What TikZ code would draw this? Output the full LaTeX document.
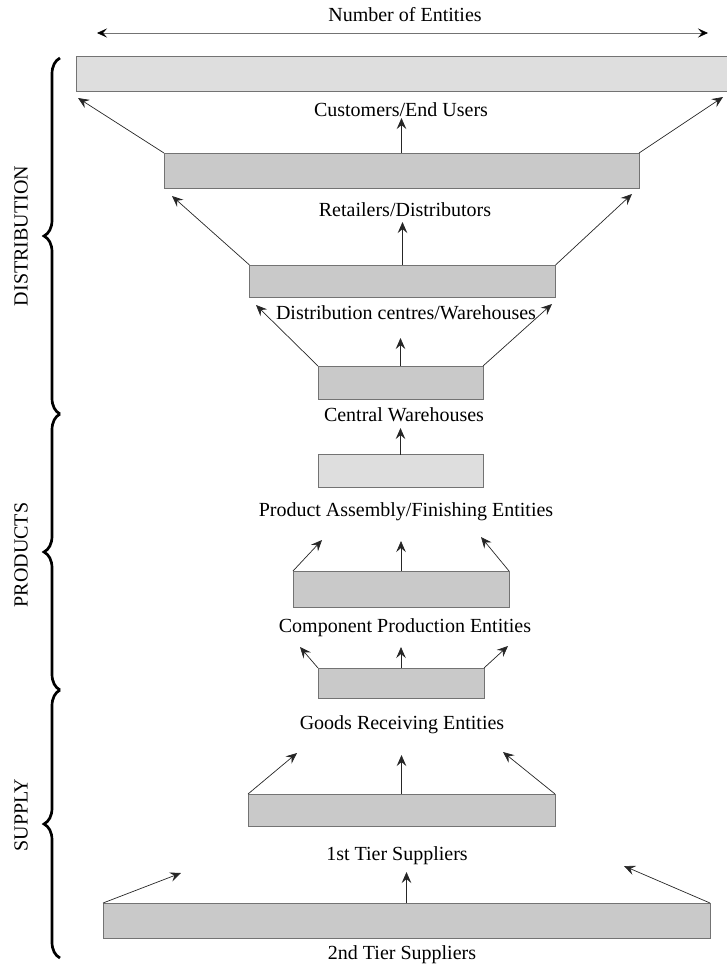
\documentclass[tikz,border=0pt]{standalone}
\usepackage{fontspec}
\setmainfont{Liberation Serif}
\usetikzlibrary{arrows.meta,decorations.pathreplacing}

\tikzset{
  tier/.style={draw=black!55, line width=0.7pt, fill=black!21, inner sep=0pt, outer sep=0pt},
  tierlight/.style={tier, fill=black!13},
  lbl/.style={font=\fontsize{20}{24}\selectfont, inner sep=0pt},
  side/.style={font=\fontsize{20}{24}\selectfont, inner sep=0pt, rotate=90},
  flow/.style={draw=black!85, line width=0.7pt, -{Stealth[length=11pt,width=9.5pt,inset=4pt]}},
  span/.style={draw=black!55, line width=0.6pt, {Stealth[length=10pt,width=9pt,inset=4pt,black]}-{Stealth[length=10pt,width=9pt,inset=4pt,black]}},
  curly/.style={line width=2.7pt, decorate, decoration={brace, amplitude=16pt}}
}

\begin{document}
\begin{tikzpicture}[x=1pt,y=-1pt]
\useasboundingbox (0,0) rectangle (726,967);

% scale of the chain
\node[lbl] (count) at (405,15) {Number of Entities};
\coordinate (spanL) at (97,33);
\coordinate (spanR) at (708,33);
\draw[span] (spanL) -- (spanR);

% tiers, top to bottom
\node[tierlight, minimum width=652pt, minimum height=35pt] (b1) at (402,73.5) {};
\node[tier, minimum width=475pt, minimum height=35pt] (b2) at (401.5,170.5) {};
\node[tier, minimum width=306pt, minimum height=32pt] (b3) at (402.5,281) {};
\node[tier, minimum width=165pt, minimum height=33pt] (b4) at (400.5,382.5) {};
\node[tierlight, minimum width=165pt, minimum height=33pt] (b5) at (400.5,471) {};
\node[tier, minimum width=216pt, minimum height=36pt] (b6) at (401,589) {};
\node[tier, minimum width=166pt, minimum height=30pt] (b7) at (401,683) {};
\node[tier, minimum width=307pt, minimum height=32pt] (b8) at (401.5,810) {};
\node[tier, minimum width=607pt, minimum height=35pt] (b9) at (406.5,920.5) {};

% tier names
\node[lbl] (t1) at (401,110) {Customers/End Users};
\node[lbl] (t2) at (405,210) {Retailers/Distributors};
\node[lbl] (t3) at (406,313) {Distribution centres/Warehouses};
\node[lbl] (t4) at (404,415) {Central Warehouses};
\node[lbl] (t5) at (406,512) {Product Assembly/Finishing Entities};
\node[lbl] (t6) at (405,628) {Component Production Entities};
\node[lbl] (t7) at (402,725) {Goods Receiving Entities};
\node[lbl] (t8) at (397,856) {1st Tier Suppliers};
\node[lbl] (t9) at (402,955) {2nd Tier Suppliers};

% arrow heads
\coordinate (a1l) at (78,98);   \coordinate (a1c) at (401.5,118); \coordinate (a1r) at (723,97);
\coordinate (a2l) at (172,196); \coordinate (a2c) at (402.5,222); \coordinate (a2r) at (632,194);
\coordinate (a3l) at (256,305); \coordinate (a3c) at (400.5,338); \coordinate (a3r) at (552,304);
\coordinate (a4c) at (400.5,428);
\coordinate (a5l) at (322,540); \coordinate (a5c) at (401,541);   \coordinate (a5r) at (481,537);
\coordinate (a6l) at (300,647); \coordinate (a6c) at (401,647);   \coordinate (a6r) at (508,646);
\coordinate (a7l) at (297,753); \coordinate (a7c) at (401.5,755); \coordinate (a7r) at (503,752);
\coordinate (a8l) at (181,873); \coordinate (a8c) at (406.5,872); \coordinate (a8r) at (624,866);

% flows between tiers
\draw[flow] (b2.north west) -- (a1l);
\draw[flow] (b2.north) -- (a1c);
\draw[flow] (b2.north east) -- (a1r);
\draw[flow] (b3.north west) -- (a2l);
\draw[flow] (b3.north) -- (a2c);
\draw[flow] (b3.north east) -- (a2r);
\draw[flow] (b4.north west) -- (a3l);
\draw[flow] (b4.north) -- (a3c);
\draw[flow] (b4.north east) -- (a3r);
\draw[flow] (b5.north) -- (a4c);
\draw[flow] (b6.north west) -- (a5l);
\draw[flow] (b6.north) -- (a5c);
\draw[flow] (b6.north east) -- (a5r);
\draw[flow] (b7.north west) -- (a6l);
\draw[flow] (b7.north) -- (a6c);
\draw[flow] (b7.north east) -- (a6r);
\draw[flow] (b8.north west) -- (a7l);
\draw[flow] (b8.north) -- (a7c);
\draw[flow] (b8.north east) -- (a7r);
\draw[flow] (b9.north west) -- (a8l);
\draw[flow] (b9.north) -- (a8c);
\draw[flow] (b9.north east) -- (a8r);

% stages
\coordinate (g0) at (60,58);
\coordinate (g1) at (60,414);
\coordinate (g2) at (60,690);
\coordinate (g3) at (60,958);
\draw[curly] (g1) -- (g0);
\draw[curly] (g2) -- (g1);
\draw[curly] (g3) -- (g2);
\node[side] (sd) at (21,236) {DISTRIBUTION};
\node[side] (sp) at (21,555) {PRODUCTS};
\node[side] (ss) at (21,815) {SUPPLY};
\end{tikzpicture}
\end{document}
